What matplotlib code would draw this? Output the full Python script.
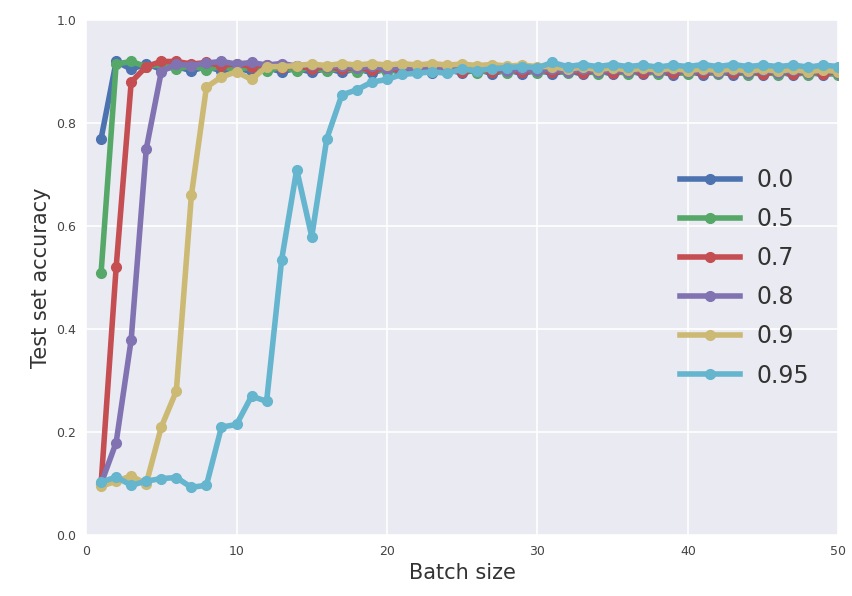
import matplotlib
matplotlib.use("Agg")
import matplotlib.pyplot as plt
import numpy as np

batch = list(range(1, 51))

acc_00 = [0.77, 0.92, 0.905, 0.915, 0.905, 0.91, 0.902, 0.91, 0.902, 0.908,
          0.9, 0.908, 0.9, 0.907, 0.899, 0.907, 0.899, 0.906, 0.898, 0.906,
          0.898, 0.905, 0.897, 0.905, 0.897, 0.905, 0.896, 0.904, 0.896, 0.904,
          0.896, 0.903, 0.895, 0.903, 0.895, 0.903, 0.895, 0.902, 0.894, 0.902,
          0.894, 0.902, 0.894, 0.901, 0.894, 0.901, 0.893, 0.901, 0.893, 0.9]
acc_05 = [0.51, 0.915, 0.92, 0.91, 0.915, 0.905, 0.912, 0.904, 0.911, 0.903,
          0.91, 0.902, 0.909, 0.902, 0.909, 0.901, 0.908, 0.9, 0.907, 0.9,
          0.907, 0.899, 0.906, 0.899, 0.906, 0.898, 0.905, 0.898, 0.905, 0.897,
          0.904, 0.897, 0.904, 0.896, 0.903, 0.896, 0.903, 0.896, 0.902, 0.895,
          0.902, 0.895, 0.902, 0.894, 0.901, 0.894, 0.901, 0.894, 0.9, 0.893]
acc_07 = [0.10, 0.52, 0.88, 0.91, 0.92, 0.92, 0.915, 0.918, 0.912, 0.916,
          0.91, 0.914, 0.908, 0.912, 0.906, 0.91, 0.905, 0.909, 0.903, 0.908,
          0.902, 0.907, 0.901, 0.906, 0.9, 0.906, 0.9, 0.905, 0.899, 0.905,
          0.899, 0.904, 0.898, 0.904, 0.898, 0.904, 0.898, 0.903, 0.897, 0.903,
          0.897, 0.903, 0.897, 0.902, 0.896, 0.902, 0.896, 0.902, 0.896, 0.901]
acc_08 = [0.10, 0.18, 0.38, 0.75, 0.90, 0.915, 0.912, 0.917, 0.92, 0.915,
          0.918, 0.913, 0.916, 0.911, 0.914, 0.909, 0.912, 0.907, 0.911, 0.905,
          0.91, 0.904, 0.909, 0.903, 0.908, 0.902, 0.907, 0.901, 0.906, 0.901,
          0.906, 0.9, 0.906, 0.9, 0.905, 0.899, 0.905, 0.899, 0.905, 0.899,
          0.904, 0.898, 0.904, 0.898, 0.904, 0.898, 0.903, 0.898, 0.903, 0.898]
acc_09 = [0.095, 0.105, 0.115, 0.10, 0.21, 0.28, 0.66, 0.87, 0.89, 0.90,
          0.885, 0.91, 0.91, 0.912, 0.915, 0.912, 0.916, 0.913, 0.916, 0.913,
          0.916, 0.913, 0.916, 0.913, 0.915, 0.912, 0.914, 0.911, 0.913, 0.91,
          0.91, 0.905, 0.909, 0.904, 0.908, 0.903, 0.907, 0.903, 0.907, 0.902,
          0.906, 0.902, 0.906, 0.901, 0.905, 0.901, 0.905, 0.9, 0.904, 0.9]
acc_095 = [0.103, 0.113, 0.097, 0.105, 0.11, 0.112, 0.093, 0.097, 0.21, 0.215,
           0.27, 0.26, 0.535, 0.71, 0.58, 0.77, 0.855, 0.865, 0.88, 0.885,
           0.895, 0.897, 0.90, 0.897, 0.905, 0.902, 0.906, 0.908, 0.91, 0.908,
           0.918, 0.91, 0.914, 0.91, 0.914, 0.91, 0.913, 0.909, 0.913, 0.91,
           0.914, 0.91, 0.914, 0.91, 0.913, 0.91, 0.913, 0.909, 0.913, 0.91]

series = [("0.0", acc_00), ("0.5", acc_05), ("0.7", acc_07),
          ("0.8", acc_08), ("0.9", acc_09), ("0.95", acc_095)]
colors = ["#4C72B0", "#55A868", "#C44E52", "#8172B2", "#CCB974", "#64B5CD"]

plt.rcParams['font.family'] = ['DejaVu Sans']
fig = plt.figure(figsize=(8.52, 5.96), dpi=100)
ax = fig.add_axes([0.101, 0.102, 0.883, 0.864])
ax.set_facecolor("#EAEAF2")
for s in ax.spines.values():
    s.set_visible(False)
ax.grid(True, color="white", linewidth=1.2)
ax.set_axisbelow(True)

for (lab, vals), c in zip(series, colors):
    ax.plot(batch, vals, color=c, linewidth=4.0, marker="o", markersize=7,
            label=lab)

ax.set_xlim(0, 50)
ax.set_ylim(0, 1.0)
ax.set_xticks([0, 10, 20, 30, 40, 50])
ax.set_yticks([0.0, 0.2, 0.4, 0.6, 0.8, 1.0])
ax.tick_params(axis="both", length=0, labelsize=9, labelcolor="#444444", pad=7)
ax.set_xlabel("Batch size", fontsize=15, color="#333333")
ax.set_ylabel("Test set accuracy", fontsize=15, color="#333333")

leg = ax.legend(loc="center right", bbox_to_anchor=(0.99, 0.5), frameon=False,
                fontsize=17, handlelength=2.55, handletextpad=0.7,
                numpoints=1, labelspacing=0.64)
for t in leg.get_texts():
    t.set_color("#333333")

fig.savefig("out.png", dpi=100)
